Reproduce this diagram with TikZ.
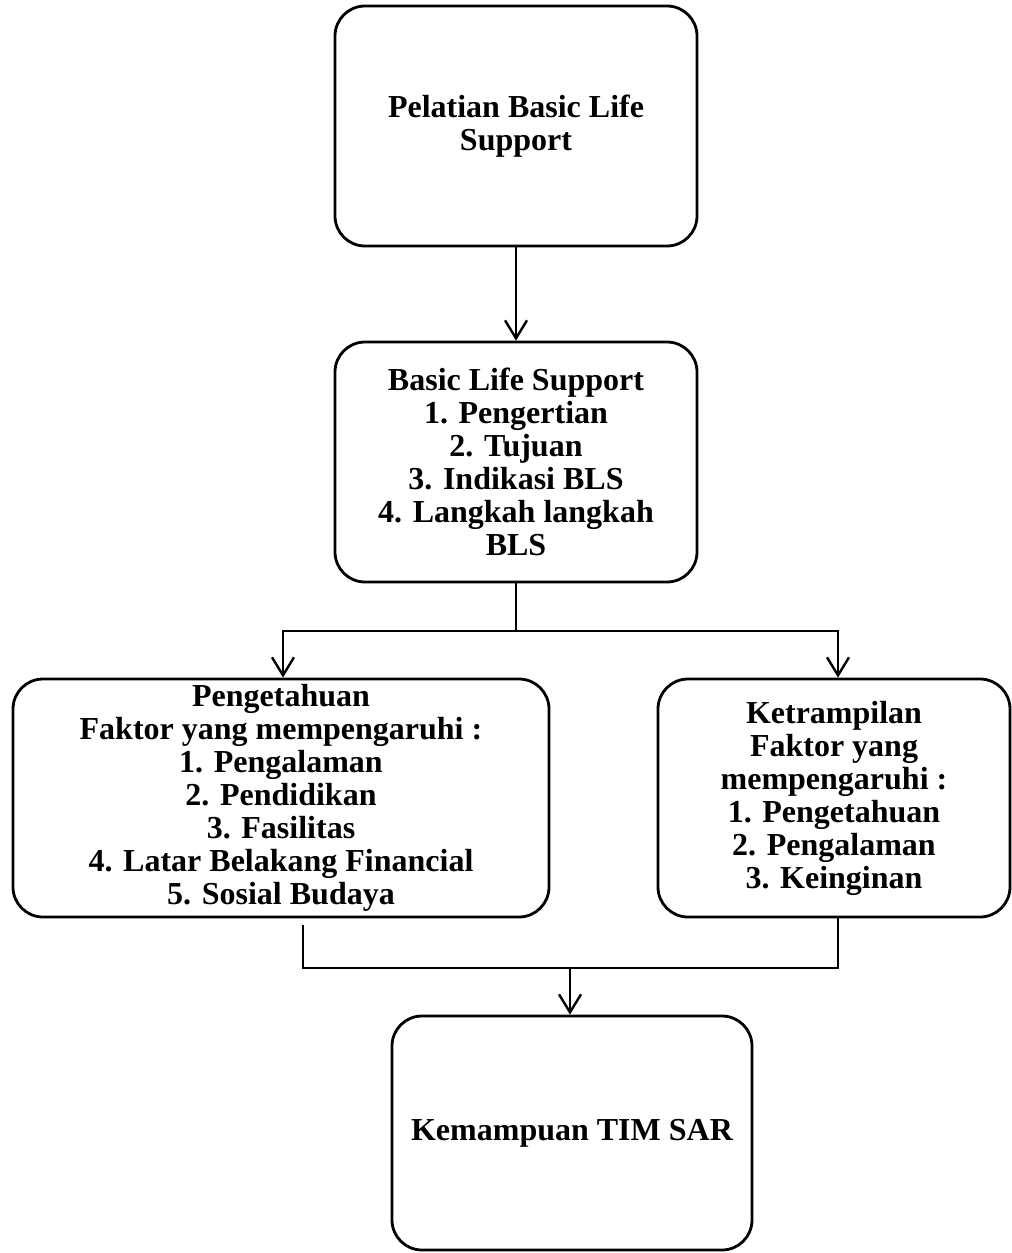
\documentclass[tikz,border=0pt]{standalone}
\usepackage{fontspec}
\setmainfont{Liberation Serif}
\usetikzlibrary{arrows.meta}

\tikzset{
  kotak/.style={draw, line width=1.4pt, rounded corners=15pt, align=center,
    inner sep=0pt, font=\bfseries\fontsize{16}{16.5}\selectfont},
  panah/.style={-{Straight Barb[length=9pt,width=11pt,line width=1.2pt]}, line width=1.4pt},
  garis/.style={line width=1.4pt},
}

\begin{document}
\begin{tikzpicture}[x=0.5pt,y=-0.5pt]
  \useasboundingbox (0,0) rectangle (1012,1253);
  % kotak-kotak
  \node[kotak, minimum width=181pt, minimum height=120pt] (pelatian) at (516,126)
    {Pelatian Basic Life\\Support};
  \node[kotak, minimum width=181pt, minimum height=120pt] (bls) at (516,462)
    {Basic Life Support\\1. Pengertian\\2. Tujuan\\3. Indikasi BLS\\4. Langkah langkah\\BLS};
  \node[kotak, minimum width=268pt, minimum height=119pt] (tahu) at (281,798)
    {Pengetahuan\\Faktor yang mempengaruhi :\\1. Pengalaman\\2. Pendidikan\\3. Fasilitas\\4. Latar Belakang Financial\\5. Sosial Budaya};
  \node[kotak, minimum width=176pt, minimum height=119pt] (terampil) at (834,798)
    {Ketrampilan\\Faktor yang\\mempengaruhi :\\1. Pengetahuan\\2. Pengalaman\\3. Keinginan};
  \node[kotak, minimum width=180pt, minimum height=117pt] (sar) at (572,1133)
    {Kemampuan TIM SAR};
  % panah
  \coordinate (cabang) at (516,631);
  \coordinate (gabung) at (570,968);
  \draw[panah] (pelatian) -- (bls);
  \draw[garis] (bls.south) -- (cabang);
  \draw[panah] (cabang) -| ([xshift=1pt]tahu.north);
  \draw[panah] (cabang) -| ([xshift=2pt]terampil.north);
  \draw[line width=0.6pt] ([xshift=11pt,yshift=-3.5pt]tahu.south) |- (gabung);
  \draw[garis] ([xshift=2pt]terampil.south) |- (gabung);
  \draw[panah] (gabung) -- ([xshift=-1pt]sar.north);
\end{tikzpicture}
\end{document}
